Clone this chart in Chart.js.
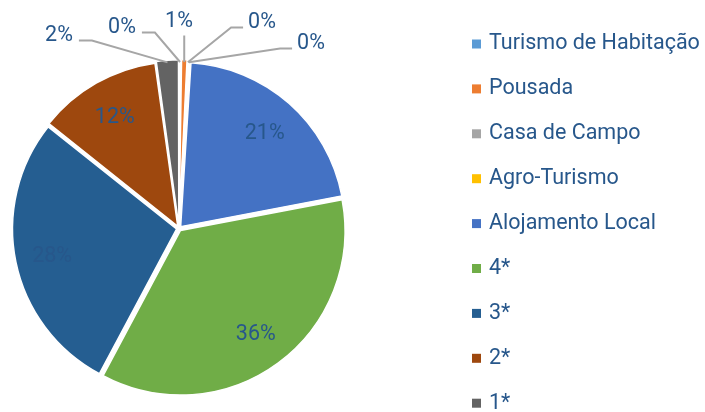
<!DOCTYPE html>
<html>
<head>
<meta charset="utf-8">
<script src="https://cdn.jsdelivr.net/npm/chart.js@4.4.0/dist/chart.umd.min.js"></script>
<style>
  html, body { margin: 0; padding: 0; background: #fff; }
  #wrap { width: 705px; height: 412px; }
</style>
</head>
<body>
<div id="wrap"><canvas id="pie"></canvas></div>
<script>
// data (percent of total)
const categories = ['Turismo de Habitação', 'Pousada', 'Casa de Campo', 'Agro-Turismo', 'Alojamento Local', '4*', '3*', '2*', '1*'];
const shares = [0.2, 0.6, 0.1, 0.1, 21.0, 35.8, 27.9, 12.1, 2.2];
const sliceColors = ['#5B9BD5', '#ED7D31', '#A5A5A5', '#FFC000', '#4472C4', '#70AD47', '#255E91', '#9E480E', '#636363'];

const TEXT_COLOR = '#27578B';
const FONT = '21.5px Roboto, "Open Sans", sans-serif';

// where the callout labels of the thin slices sit, relative to the pie centre
const callouts = {
  0: { dx: -57, dy: -202, side: 'left' },
  1: { dx: 0, dy: -208, side: 'top' },
  2: { dx: 83, dy: -207, side: 'right' },
  3: { dx: 132, dy: -186, side: 'right' },
  8: { dx: -120, dy: -194, side: 'left' }
};

const total = shares.reduce((a, b) => a + b, 0);

const labelPlugin = {
  id: 'pieLabels',
  afterDatasetsDraw(chart) {
    const ctx = chart.ctx;
    const meta = chart.getDatasetMeta(0);
    ctx.save();
    ctx.font = FONT;
    ctx.textAlign = 'center';
    ctx.textBaseline = 'middle';
    meta.data.forEach((arc, i) => {
      const p = arc.getProps(['x', 'y', 'startAngle', 'endAngle', 'outerRadius'], true);
      const mid = (p.startAngle + p.endAngle) / 2;
      const text = Math.round(shares[i] / total * 100) + '%';
      const c = callouts[i];
      if (!c) {
        const r = p.outerRadius * 0.79;
        ctx.fillStyle = TEXT_COLOR;
        ctx.fillText(text, p.x + Math.cos(mid) * r, p.y + Math.sin(mid) * r + 2);
        return;
      }
      // leader line from the rim to the label
      const rr = p.outerRadius + 2.5;
      const ax = p.x + Math.cos(mid) * rr;
      const ay = p.y + Math.sin(mid) * rr;
      const tx = p.x + c.dx;
      const ty = p.y + c.dy;
      const w = ctx.measureText(text).width;
      ctx.strokeStyle = '#A6A6A6';
      ctx.lineWidth = 2;
      ctx.beginPath();
      if (c.side === 'top') {
        ctx.moveTo(ax, ty + 15);
        ctx.lineTo(ax, ay);
      } else if (c.side === 'left') {
        const sx = tx + w / 2 + 6;
        ctx.moveTo(sx, ty + 6);
        ctx.lineTo(sx + 13, ty + 6);
        ctx.lineTo(ax, ay);
      } else {
        const sx = tx - w / 2 - 5;
        ctx.moveTo(sx, ty + 6);
        ctx.lineTo(sx - 12, ty + 6);
        ctx.lineTo(ax, ay);
      }
      ctx.stroke();
      ctx.fillStyle = TEXT_COLOR;
      ctx.fillText(text, tx, ty + 1);
    });
    ctx.restore();
  }
};

// legend drawn by hand so the spacing matches the original
const legendPlugin = {
  id: 'sideLegend',
  afterDraw(chart) {
    const ctx = chart.ctx;
    const left = 472, top = 44, step = 44.9;
    ctx.save();
    ctx.font = FONT;
    ctx.textAlign = 'left';
    ctx.textBaseline = 'middle';
    categories.forEach((name, i) => {
      const y = top + i * step;
      ctx.fillStyle = sliceColors[i];
      ctx.fillRect(left, y - 4.5, 9, 9);
      ctx.fillStyle = TEXT_COLOR;
      ctx.fillText(name, left + 17, y);
    });
    ctx.restore();
  }
};

new Chart(document.getElementById('pie'), {
  type: 'pie',
  data: {
    labels: categories,
    datasets: [{
      data: shares,
      backgroundColor: sliceColors,
      borderColor: '#fff',
      borderWidth: 1.5,
      offset: 10
    }]
  },
  options: {
    responsive: true,
    maintainAspectRatio: false,
    animation: false,
    layout: { padding: { left: 9.25, top: 58.75, right: 356.25, bottom: 13.75 } },
    plugins: {
      legend: { display: false },
      tooltip: { enabled: false }
    }
  },
  plugins: [labelPlugin, legendPlugin]
});
</script>
</body>
</html>
